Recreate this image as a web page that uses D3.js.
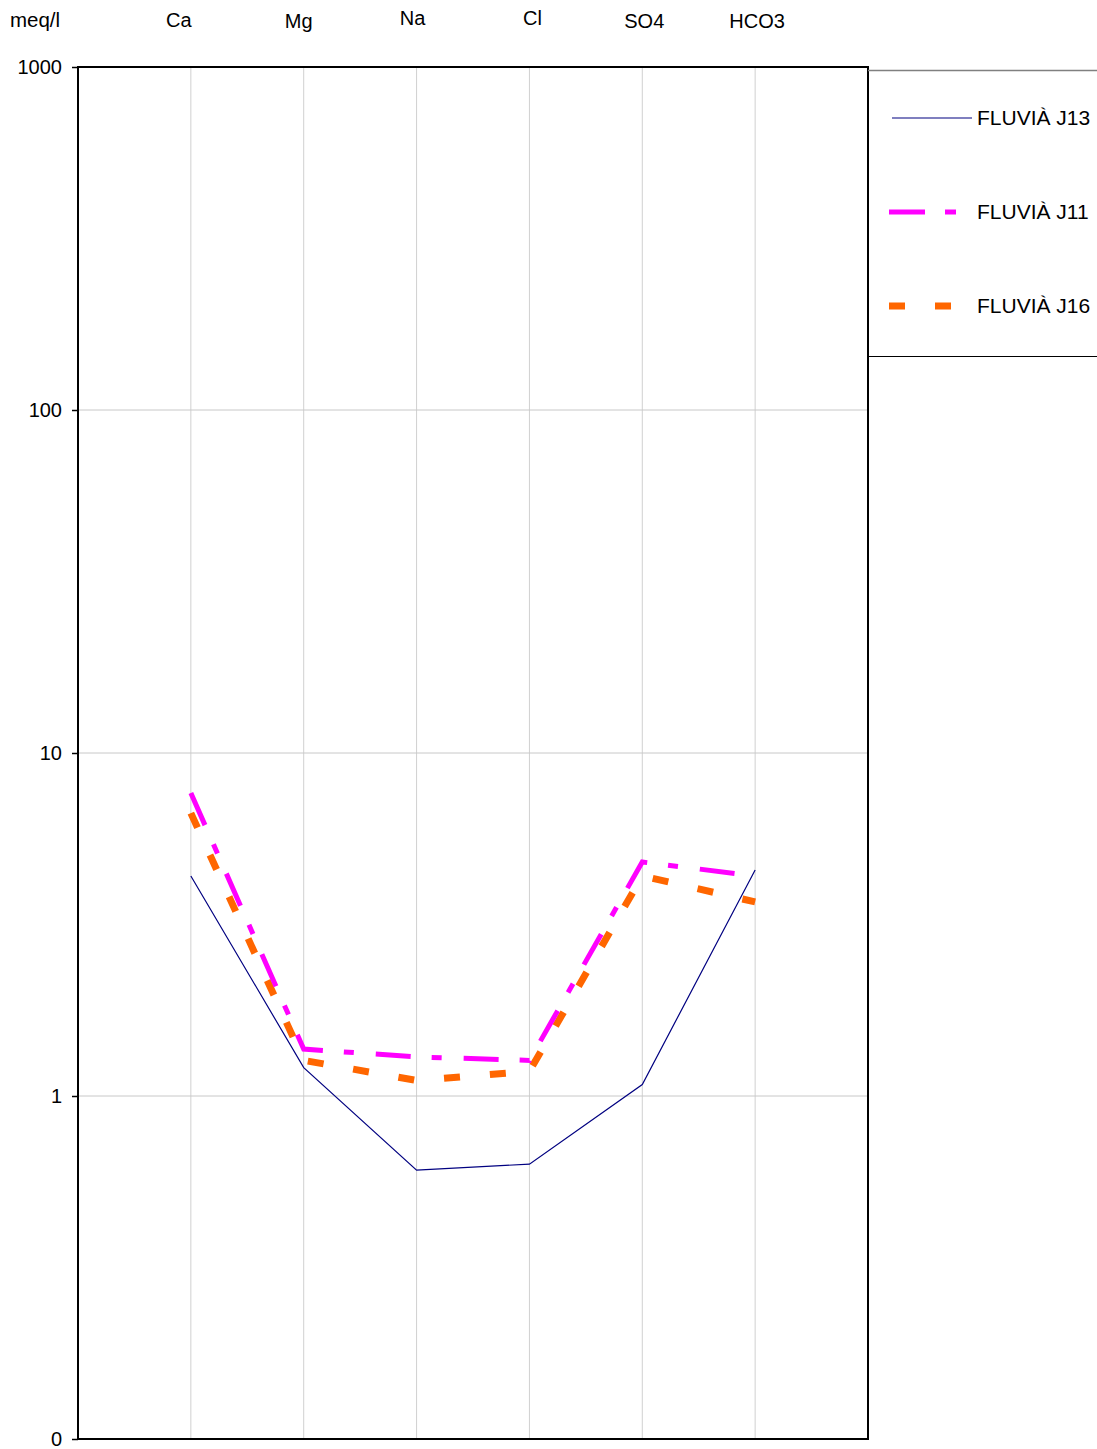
<!DOCTYPE html>
<html>
<head>
<meta charset="utf-8">
<script src="https://cdn.jsdelivr.net/npm/d3@7"></script>
<style>
  body { margin: 0; background: #fff; }
  text { font-family: "Liberation Sans", Arial, sans-serif; fill: #000; }
</style>
</head>
<body>
<script>
// ions along the x axis
var ions = ["Ca", "Mg", "Na", "Cl", "SO4", "HCO3"];
// meq/l values
var j13 = [4.38, 1.21, 0.608, 0.633, 1.08, 4.56];
var j11 = [7.64, 1.37, 1.30, 1.27, 4.81, 4.38];
var j16 = [6.68, 1.27, 1.11, 1.18, 4.38, 3.68];
var seriesNames = ["FLUVIÀ J13", "FLUVIÀ J11", "FLUVIÀ J16"];
var yTicks = [0.1, 1, 10, 100, 1000];
var yTickLabels = ["0", "1", "10", "100", "1000"];

var width = 1097, height = 1449;
var plotL = 78, plotR = 868, plotT = 67, plotB = 1439;

var svg = d3.select("body").append("svg")
  .attr("width", width)
  .attr("height", height);

var x = d3.scaleLinear().domain([0, ions.length + 1]).range([plotL, plotR]);
var y = d3.scaleLog().domain([0.1, 1000]).range([plotB, plotT]);

// grid
svg.append("g").selectAll("line")
  .data(ions)
  .enter().append("line")
  .attr("x1", (d, i) => x(i + 1)).attr("x2", (d, i) => x(i + 1))
  .attr("y1", plotT).attr("y2", plotB)
  .attr("stroke", "#d0d0d0").attr("stroke-width", 1);

svg.append("g").selectAll("line")
  .data(yTicks.filter(d => d > 0.1 && d < 1000))
  .enter().append("line")
  .attr("x1", plotL).attr("x2", plotR)
  .attr("y1", d => y(d)).attr("y2", d => y(d))
  .attr("stroke", "#c8c8c8").attr("stroke-width", 1);

// y axis
var yAxis = d3.axisLeft(y)
  .tickValues(yTicks)
  .tickFormat((d, i) => yTickLabels[i])
  .tickSize(6)
  .tickPadding(10);
var ga = svg.append("g").attr("transform", "translate(" + plotL + ",0)").call(yAxis);
ga.select(".domain").remove();
ga.selectAll("line").attr("stroke", "#000").attr("stroke-width", 1.5);
ga.selectAll("text").attr("font-size", null).style("font-size", "20px")
  .style("font-family", "Liberation Sans, Arial, sans-serif").attr("fill", "#000");

// header labels
var nudge = [-12, -5, -4, 3, 2, 2];
var lift = [27, 28, 25, 25, 28, 28];
svg.append("text").attr("x", 35).attr("y", 27).attr("text-anchor", "middle")
  .style("font-size", "20.5px").text("meq/l");
svg.append("g").selectAll("text")
  .data(ions)
  .enter().append("text")
  .attr("x", (d, i) => x(i + 1) + nudge[i])
  .attr("y", (d, i) => lift[i])
  .attr("text-anchor", "middle")
  .style("font-size", "20px")
  .text(d => d);

// series lines
var series = [
  { name: seriesNames[0], values: j13, color: "#000080", w: 1.2, dash: null },
  { name: seriesNames[1], values: j11, color: "#ff00ff", w: 5, dash: "35,21,10,22" },
  { name: seriesNames[2], values: j16, color: "#ff6600", w: 7, dash: "16,30" }
];

var line = d3.line()
  .x((d, i) => x(i + 1))
  .y(d => y(d));

series.slice().reverse().forEach(s => {
  svg.append("path")
    .datum(s.values)
    .attr("d", line)
    .attr("fill", "none")
    .attr("stroke", s.color)
    .attr("stroke-width", s.w)
    .attr("stroke-dasharray", s.dash);
});

// frame
svg.append("rect")
  .attr("x", plotL).attr("y", plotT)
  .attr("width", plotR - plotL).attr("height", plotB - plotT)
  .attr("fill", "none").attr("stroke", "#000").attr("stroke-width", 2);

// legend
var lg = svg.append("g");
lg.append("line").attr("x1", plotR).attr("x2", width).attr("y1", 70.5).attr("y2", 70.5)
  .attr("stroke", "#808080").attr("stroke-width", 1.5);
lg.append("line").attr("x1", plotR).attr("x2", width).attr("y1", 356.5).attr("y2", 356.5)
  .attr("stroke", "#000").attr("stroke-width", 1);
var legY = [118, 212, 306];
series.forEach((s, i) => {
  lg.append("line")
    .attr("x1", i == 0 ? 892 : 889).attr("x2", i == 0 ? 972 : 956)
    .attr("y1", legY[i]).attr("y2", legY[i])
    .attr("stroke", s.color)
    .attr("stroke-width", i == 0 ? 1.2 : s.w)
    .attr("stroke-dasharray", i == 1 ? "36,20,11,40" : s.dash);
  lg.append("text")
    .attr("x", 977).attr("y", legY[i] + 7)
    .style("font-size", "21px")
    .text(s.name);
});
</script>
</body>
</html>
